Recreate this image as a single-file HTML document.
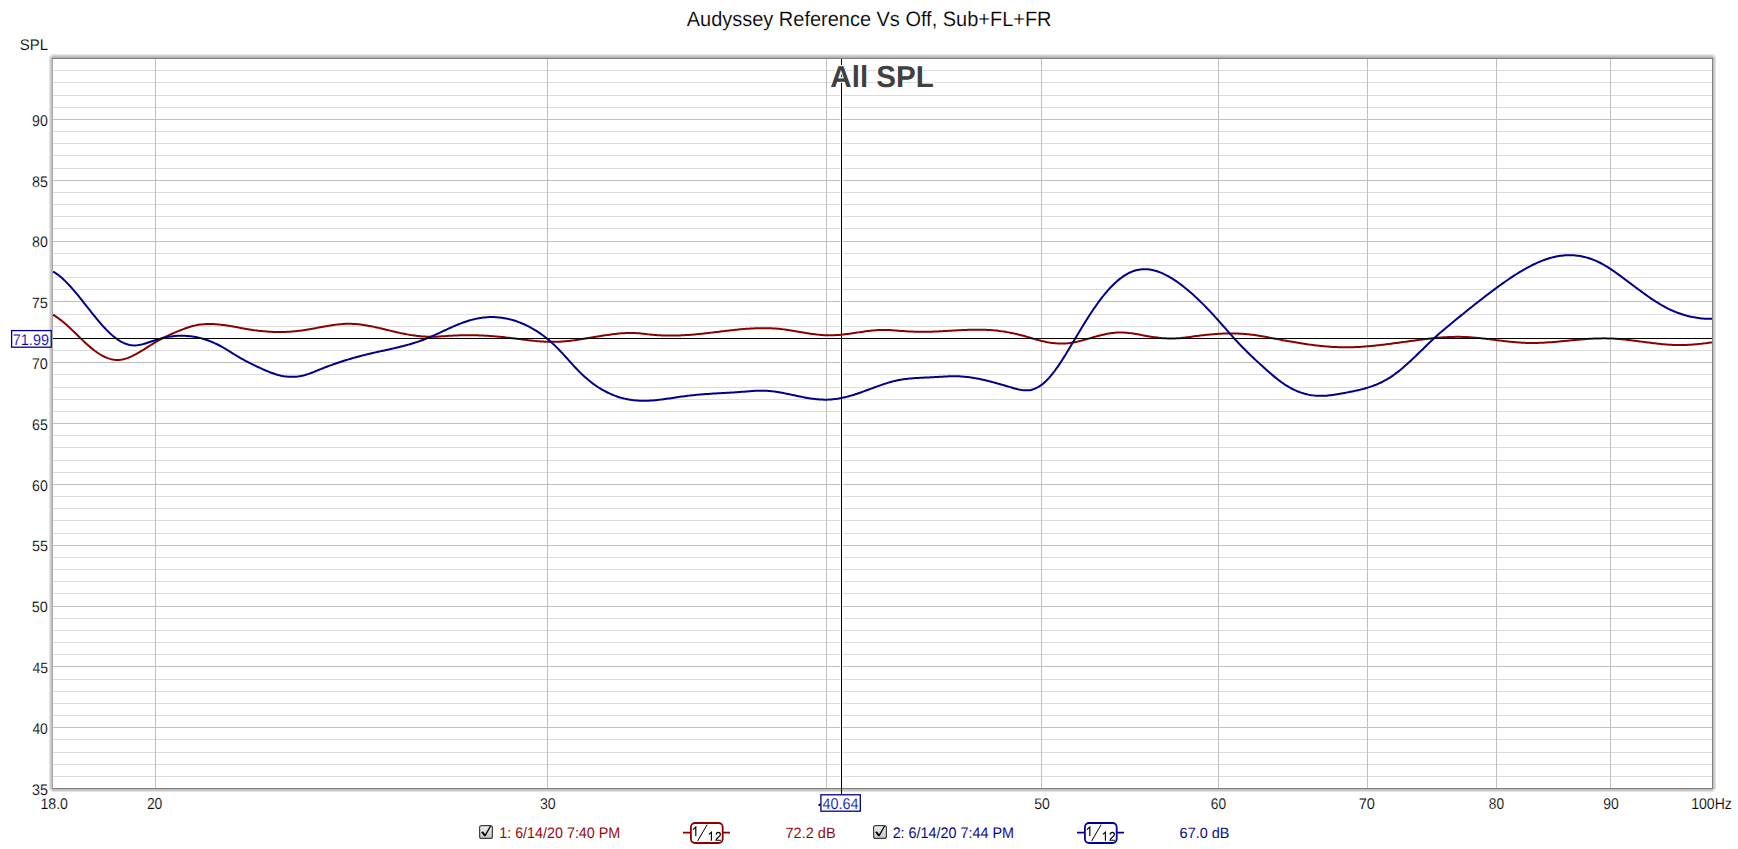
<!DOCTYPE html><html><head><meta charset="utf-8"><title>Audyssey Reference Vs Off, Sub+FL+FR</title><style>html,body{margin:0;padding:0;background:#fff;overflow:hidden}svg{display:block}</style></head><body><svg width="1738" height="849" viewBox="0 0 1738 849"><defs><linearGradient id="cbg" x1="0" y1="0" x2="0" y2="1"><stop offset="0" stop-color="#f2f2f2"/><stop offset="1" stop-color="#c4c4c4"/></linearGradient></defs><rect x="49.5" y="54.5" width="1666.0" height="737.0" rx="3.5" fill="none" stroke="#e2e2e2" stroke-width="1"/>
<rect x="50.5" y="55.5" width="1664.0" height="735.0" rx="2.5" fill="none" stroke="#d0d0d0" stroke-width="1"/>
<rect x="51.5" y="56.5" width="1662.0" height="733.0" rx="1.5" fill="none" stroke="#c0c0c0" stroke-width="1"/>
<rect x="53" y="54" width="1659" height="1" fill="#e6e6e6"/>
<rect x="53" y="55" width="1659" height="1" fill="#d2d2d2"/>
<rect x="53" y="56" width="1659" height="1" fill="#c3c3c3"/>
<rect x="53" y="790" width="1659" height="1" fill="#c8c8c8"/>
<rect x="53" y="57" width="1661" height="1" fill="#b3b3b3"/>
<rect x="52" y="58" width="1" height="730" fill="#a8a8a8"/>
<rect x="52" y="57" width="1" height="1" fill="#b8b8b8"/>
<rect x="52" y="58" width="1661" height="1" fill="#808080"/>
<rect x="52" y="788" width="1661" height="1" fill="#808080"/>
<rect x="1712" y="58" width="1" height="731" fill="#808080"/>
<rect x="53" y="59" width="1659" height="729" fill="#fff"/>
<line x1="53" x2="1712" y1="776.5" y2="776.5" stroke="#dcdcdc" stroke-width="1"/>
<line x1="53" x2="1712" y1="764.5" y2="764.5" stroke="#dcdcdc" stroke-width="1"/>
<line x1="53" x2="1712" y1="752.5" y2="752.5" stroke="#dcdcdc" stroke-width="1"/>
<line x1="53" x2="1712" y1="739.5" y2="739.5" stroke="#dcdcdc" stroke-width="1"/>
<line x1="53" x2="1712" y1="727.5" y2="727.5" stroke="#c0c0c0" stroke-width="1"/>
<line x1="53" x2="1712" y1="715.5" y2="715.5" stroke="#dcdcdc" stroke-width="1"/>
<line x1="53" x2="1712" y1="703.5" y2="703.5" stroke="#dcdcdc" stroke-width="1"/>
<line x1="53" x2="1712" y1="691.5" y2="691.5" stroke="#dcdcdc" stroke-width="1"/>
<line x1="53" x2="1712" y1="679.5" y2="679.5" stroke="#dcdcdc" stroke-width="1"/>
<line x1="53" x2="1712" y1="666.5" y2="666.5" stroke="#c0c0c0" stroke-width="1"/>
<line x1="53" x2="1712" y1="654.5" y2="654.5" stroke="#dcdcdc" stroke-width="1"/>
<line x1="53" x2="1712" y1="642.5" y2="642.5" stroke="#dcdcdc" stroke-width="1"/>
<line x1="53" x2="1712" y1="630.5" y2="630.5" stroke="#dcdcdc" stroke-width="1"/>
<line x1="53" x2="1712" y1="618.5" y2="618.5" stroke="#dcdcdc" stroke-width="1"/>
<line x1="53" x2="1712" y1="606.5" y2="606.5" stroke="#c0c0c0" stroke-width="1"/>
<line x1="53" x2="1712" y1="593.5" y2="593.5" stroke="#dcdcdc" stroke-width="1"/>
<line x1="53" x2="1712" y1="581.5" y2="581.5" stroke="#dcdcdc" stroke-width="1"/>
<line x1="53" x2="1712" y1="569.5" y2="569.5" stroke="#dcdcdc" stroke-width="1"/>
<line x1="53" x2="1712" y1="557.5" y2="557.5" stroke="#dcdcdc" stroke-width="1"/>
<line x1="53" x2="1712" y1="545.5" y2="545.5" stroke="#c0c0c0" stroke-width="1"/>
<line x1="53" x2="1712" y1="533.5" y2="533.5" stroke="#dcdcdc" stroke-width="1"/>
<line x1="53" x2="1712" y1="520.5" y2="520.5" stroke="#dcdcdc" stroke-width="1"/>
<line x1="53" x2="1712" y1="508.5" y2="508.5" stroke="#dcdcdc" stroke-width="1"/>
<line x1="53" x2="1712" y1="496.5" y2="496.5" stroke="#dcdcdc" stroke-width="1"/>
<line x1="53" x2="1712" y1="484.5" y2="484.5" stroke="#c0c0c0" stroke-width="1"/>
<line x1="53" x2="1712" y1="472.5" y2="472.5" stroke="#dcdcdc" stroke-width="1"/>
<line x1="53" x2="1712" y1="460.5" y2="460.5" stroke="#dcdcdc" stroke-width="1"/>
<line x1="53" x2="1712" y1="447.5" y2="447.5" stroke="#dcdcdc" stroke-width="1"/>
<line x1="53" x2="1712" y1="435.5" y2="435.5" stroke="#dcdcdc" stroke-width="1"/>
<line x1="53" x2="1712" y1="423.5" y2="423.5" stroke="#c0c0c0" stroke-width="1"/>
<line x1="53" x2="1712" y1="411.5" y2="411.5" stroke="#dcdcdc" stroke-width="1"/>
<line x1="53" x2="1712" y1="399.5" y2="399.5" stroke="#dcdcdc" stroke-width="1"/>
<line x1="53" x2="1712" y1="387.5" y2="387.5" stroke="#dcdcdc" stroke-width="1"/>
<line x1="53" x2="1712" y1="374.5" y2="374.5" stroke="#dcdcdc" stroke-width="1"/>
<line x1="53" x2="1712" y1="362.5" y2="362.5" stroke="#c0c0c0" stroke-width="1"/>
<line x1="53" x2="1712" y1="350.5" y2="350.5" stroke="#dcdcdc" stroke-width="1"/>
<line x1="53" x2="1712" y1="338.5" y2="338.5" stroke="#dcdcdc" stroke-width="1"/>
<line x1="53" x2="1712" y1="326.5" y2="326.5" stroke="#dcdcdc" stroke-width="1"/>
<line x1="53" x2="1712" y1="314.5" y2="314.5" stroke="#dcdcdc" stroke-width="1"/>
<line x1="53" x2="1712" y1="301.5" y2="301.5" stroke="#c0c0c0" stroke-width="1"/>
<line x1="53" x2="1712" y1="289.5" y2="289.5" stroke="#dcdcdc" stroke-width="1"/>
<line x1="53" x2="1712" y1="277.5" y2="277.5" stroke="#dcdcdc" stroke-width="1"/>
<line x1="53" x2="1712" y1="265.5" y2="265.5" stroke="#dcdcdc" stroke-width="1"/>
<line x1="53" x2="1712" y1="253.5" y2="253.5" stroke="#dcdcdc" stroke-width="1"/>
<line x1="53" x2="1712" y1="241.5" y2="241.5" stroke="#c0c0c0" stroke-width="1"/>
<line x1="53" x2="1712" y1="228.5" y2="228.5" stroke="#dcdcdc" stroke-width="1"/>
<line x1="53" x2="1712" y1="216.5" y2="216.5" stroke="#dcdcdc" stroke-width="1"/>
<line x1="53" x2="1712" y1="204.5" y2="204.5" stroke="#dcdcdc" stroke-width="1"/>
<line x1="53" x2="1712" y1="192.5" y2="192.5" stroke="#dcdcdc" stroke-width="1"/>
<line x1="53" x2="1712" y1="180.5" y2="180.5" stroke="#c0c0c0" stroke-width="1"/>
<line x1="53" x2="1712" y1="168.5" y2="168.5" stroke="#dcdcdc" stroke-width="1"/>
<line x1="53" x2="1712" y1="155.5" y2="155.5" stroke="#dcdcdc" stroke-width="1"/>
<line x1="53" x2="1712" y1="143.5" y2="143.5" stroke="#dcdcdc" stroke-width="1"/>
<line x1="53" x2="1712" y1="131.5" y2="131.5" stroke="#dcdcdc" stroke-width="1"/>
<line x1="53" x2="1712" y1="119.5" y2="119.5" stroke="#c0c0c0" stroke-width="1"/>
<line x1="53" x2="1712" y1="107.5" y2="107.5" stroke="#dcdcdc" stroke-width="1"/>
<line x1="53" x2="1712" y1="95.5" y2="95.5" stroke="#dcdcdc" stroke-width="1"/>
<line x1="53" x2="1712" y1="82.5" y2="82.5" stroke="#dcdcdc" stroke-width="1"/>
<line x1="53" x2="1712" y1="70.5" y2="70.5" stroke="#dcdcdc" stroke-width="1"/>
<line x1="155.5" x2="155.5" y1="59" y2="788" stroke="#c0c0c0" stroke-width="1"/>
<line x1="547.5" x2="547.5" y1="59" y2="788" stroke="#c0c0c0" stroke-width="1"/>
<line x1="826.5" x2="826.5" y1="59" y2="788" stroke="#c0c0c0" stroke-width="1"/>
<line x1="1041.5" x2="1041.5" y1="59" y2="788" stroke="#c0c0c0" stroke-width="1"/>
<line x1="1218.5" x2="1218.5" y1="59" y2="788" stroke="#c0c0c0" stroke-width="1"/>
<line x1="1367.5" x2="1367.5" y1="59" y2="788" stroke="#c0c0c0" stroke-width="1"/>
<line x1="1496.5" x2="1496.5" y1="59" y2="788" stroke="#c0c0c0" stroke-width="1"/>
<line x1="1610.5" x2="1610.5" y1="59" y2="788" stroke="#c0c0c0" stroke-width="1"/>
<rect x="53" y="337" width="1659" height="3" fill="#fff" fill-opacity="0.65"/>
<rect x="840" y="59" width="3" height="729" fill="#fff" fill-opacity="0.65"/>
<path d="M53.0,314.68 L54.5,315.62 L56.0,316.61 L57.5,317.66 L59.0,318.75 L60.5,319.89 L62.0,321.08 L63.5,322.30 L65.0,323.56 L66.5,324.86 L68.0,326.19 L69.5,327.55 L71.0,328.94 L72.5,330.36 L74.0,331.80 L75.5,333.26 L77.0,334.73 L78.5,336.21 L80.0,337.69 L81.5,339.15 L83.0,340.60 L84.5,342.03 L86.0,343.42 L87.5,344.78 L89.0,346.10 L90.5,347.38 L92.0,348.61 L93.5,349.80 L95.0,350.94 L96.5,352.02 L98.0,353.04 L99.5,354.01 L101.0,354.91 L102.5,355.75 L104.0,356.52 L105.5,357.23 L107.0,357.85 L108.5,358.40 L110.0,358.88 L111.5,359.27 L113.0,359.57 L114.5,359.79 L116.0,359.92 L117.5,359.95 L119.0,359.89 L120.5,359.75 L122.0,359.51 L123.5,359.20 L125.0,358.81 L126.5,358.35 L128.0,357.82 L129.5,357.24 L131.0,356.59 L132.5,355.90 L134.0,355.16 L135.5,354.37 L137.0,353.55 L138.5,352.69 L140.0,351.81 L141.5,350.90 L143.0,349.98 L144.5,349.04 L146.0,348.09 L147.5,347.13 L149.0,346.18 L150.5,345.23 L152.0,344.29 L153.5,343.36 L155.0,342.45 L156.5,341.57 L158.0,340.71 L159.5,339.87 L161.0,339.06 L162.5,338.28 L164.0,337.51 L165.5,336.77 L167.0,336.04 L168.5,335.34 L170.0,334.65 L171.5,333.98 L173.0,333.32 L174.5,332.68 L176.0,332.05 L177.5,331.43 L179.0,330.82 L180.5,330.22 L182.0,329.63 L183.5,329.06 L185.0,328.50 L186.5,327.96 L188.0,327.45 L189.5,326.97 L191.0,326.51 L192.5,326.09 L194.0,325.71 L195.5,325.38 L197.0,325.08 L198.5,324.82 L200.0,324.60 L201.5,324.41 L203.0,324.27 L204.5,324.15 L206.0,324.07 L207.5,324.02 L209.0,324.00 L210.5,324.00 L212.0,324.04 L213.5,324.10 L215.0,324.18 L216.5,324.29 L218.0,324.41 L219.5,324.56 L221.0,324.72 L222.5,324.91 L224.0,325.10 L225.5,325.32 L227.0,325.54 L228.5,325.78 L230.0,326.02 L231.5,326.28 L233.0,326.54 L234.5,326.81 L236.0,327.08 L237.5,327.35 L239.0,327.63 L240.5,327.90 L242.0,328.18 L243.5,328.45 L245.0,328.72 L246.5,328.98 L248.0,329.24 L249.5,329.48 L251.0,329.72 L252.5,329.95 L254.0,330.16 L255.5,330.37 L257.0,330.56 L258.5,330.74 L260.0,330.91 L261.5,331.07 L263.0,331.22 L264.5,331.35 L266.0,331.47 L267.5,331.58 L269.0,331.68 L270.5,331.77 L272.0,331.84 L273.5,331.90 L275.0,331.95 L276.5,331.98 L278.0,332.00 L279.5,332.01 L281.0,332.00 L282.5,331.99 L284.0,331.95 L285.5,331.91 L287.0,331.85 L288.5,331.77 L290.0,331.68 L291.5,331.58 L293.0,331.46 L294.5,331.33 L296.0,331.19 L297.5,331.02 L299.0,330.85 L300.5,330.66 L302.0,330.45 L303.5,330.23 L305.0,330.00 L306.5,329.76 L308.0,329.51 L309.5,329.25 L311.0,328.98 L312.5,328.71 L314.0,328.43 L315.5,328.15 L317.0,327.87 L318.5,327.59 L320.0,327.30 L321.5,327.02 L323.0,326.75 L324.5,326.47 L326.0,326.21 L327.5,325.95 L329.0,325.70 L330.5,325.46 L332.0,325.23 L333.5,325.01 L335.0,324.81 L336.5,324.62 L338.0,324.45 L339.5,324.29 L341.0,324.15 L342.5,324.04 L344.0,323.94 L345.5,323.87 L347.0,323.82 L348.5,323.80 L350.0,323.80 L351.5,323.83 L353.0,323.89 L354.5,323.97 L356.0,324.08 L357.5,324.21 L359.0,324.36 L360.5,324.54 L362.0,324.73 L363.5,324.94 L365.0,325.17 L366.5,325.42 L368.0,325.69 L369.5,325.96 L371.0,326.26 L372.5,326.56 L374.0,326.87 L375.5,327.20 L377.0,327.53 L378.5,327.88 L380.0,328.22 L381.5,328.58 L383.0,328.94 L384.5,329.30 L386.0,329.66 L387.5,330.03 L389.0,330.39 L390.5,330.76 L392.0,331.12 L393.5,331.48 L395.0,331.83 L396.5,332.18 L398.0,332.52 L399.5,332.86 L401.0,333.18 L402.5,333.50 L404.0,333.80 L405.5,334.09 L407.0,334.37 L408.5,334.64 L410.0,334.89 L411.5,335.13 L413.0,335.36 L414.5,335.57 L416.0,335.76 L417.5,335.94 L419.0,336.11 L420.5,336.25 L422.0,336.38 L423.5,336.49 L425.0,336.59 L426.5,336.66 L428.0,336.72 L429.5,336.75 L431.0,336.77 L432.5,336.76 L434.0,336.74 L435.5,336.69 L437.0,336.63 L438.5,336.56 L440.0,336.47 L441.5,336.37 L443.0,336.27 L444.5,336.17 L446.0,336.06 L447.5,335.96 L449.0,335.86 L450.5,335.76 L452.0,335.67 L453.5,335.59 L455.0,335.52 L456.5,335.46 L458.0,335.40 L459.5,335.35 L461.0,335.31 L462.5,335.28 L464.0,335.25 L465.5,335.23 L467.0,335.22 L468.5,335.22 L470.0,335.22 L471.5,335.23 L473.0,335.25 L474.5,335.28 L476.0,335.31 L477.5,335.35 L479.0,335.40 L480.5,335.45 L482.0,335.51 L483.5,335.58 L485.0,335.66 L486.5,335.74 L488.0,335.83 L489.5,335.93 L491.0,336.03 L492.5,336.14 L494.0,336.26 L495.5,336.38 L497.0,336.51 L498.5,336.65 L500.0,336.80 L501.5,336.95 L503.0,337.11 L504.5,337.27 L506.0,337.44 L507.5,337.62 L509.0,337.79 L510.5,337.98 L512.0,338.17 L513.5,338.35 L515.0,338.55 L516.5,338.74 L518.0,338.93 L519.5,339.12 L521.0,339.31 L522.5,339.50 L524.0,339.69 L525.5,339.87 L527.0,340.05 L528.5,340.23 L530.0,340.40 L531.5,340.57 L533.0,340.72 L534.5,340.88 L536.0,341.02 L537.5,341.15 L539.0,341.28 L540.5,341.39 L542.0,341.50 L543.5,341.59 L545.0,341.67 L546.5,341.74 L548.0,341.79 L549.5,341.84 L551.0,341.86 L552.5,341.87 L554.0,341.87 L555.5,341.84 L557.0,341.80 L558.5,341.74 L560.0,341.67 L561.5,341.58 L563.0,341.47 L564.5,341.35 L566.0,341.22 L567.5,341.07 L569.0,340.92 L570.5,340.75 L572.0,340.56 L573.5,340.37 L575.0,340.17 L576.5,339.96 L578.0,339.75 L579.5,339.52 L581.0,339.29 L582.5,339.06 L584.0,338.82 L585.5,338.57 L587.0,338.32 L588.5,338.07 L590.0,337.82 L591.5,337.57 L593.0,337.31 L594.5,337.06 L596.0,336.80 L597.5,336.55 L599.0,336.30 L600.5,336.06 L602.0,335.81 L603.5,335.58 L605.0,335.34 L606.5,335.12 L608.0,334.90 L609.5,334.69 L611.0,334.48 L612.5,334.29 L614.0,334.10 L615.5,333.93 L617.0,333.77 L618.5,333.62 L620.0,333.49 L621.5,333.37 L623.0,333.26 L624.5,333.17 L626.0,333.10 L627.5,333.04 L629.0,333.01 L630.5,332.99 L632.0,333.00 L633.5,333.03 L635.0,333.08 L636.5,333.15 L638.0,333.25 L639.5,333.37 L641.0,333.51 L642.5,333.67 L644.0,333.84 L645.5,334.02 L647.0,334.20 L648.5,334.38 L650.0,334.55 L651.5,334.70 L653.0,334.85 L654.5,334.97 L656.0,335.09 L657.5,335.20 L659.0,335.29 L660.5,335.37 L662.0,335.43 L663.5,335.49 L665.0,335.53 L666.5,335.57 L668.0,335.59 L669.5,335.60 L671.0,335.60 L672.5,335.59 L674.0,335.58 L675.5,335.55 L677.0,335.51 L678.5,335.46 L680.0,335.40 L681.5,335.34 L683.0,335.27 L684.5,335.18 L686.0,335.09 L687.5,334.99 L689.0,334.89 L690.5,334.78 L692.0,334.66 L693.5,334.53 L695.0,334.40 L696.5,334.26 L698.0,334.11 L699.5,333.96 L701.0,333.81 L702.5,333.65 L704.0,333.48 L705.5,333.32 L707.0,333.15 L708.5,332.97 L710.0,332.80 L711.5,332.62 L713.0,332.44 L714.5,332.26 L716.0,332.08 L717.5,331.90 L719.0,331.71 L720.5,331.53 L722.0,331.35 L723.5,331.17 L725.0,330.99 L726.5,330.82 L728.0,330.64 L729.5,330.47 L731.0,330.30 L732.5,330.14 L734.0,329.97 L735.5,329.82 L737.0,329.66 L738.5,329.52 L740.0,329.37 L741.5,329.24 L743.0,329.11 L744.5,328.98 L746.0,328.87 L747.5,328.76 L749.0,328.66 L750.5,328.56 L752.0,328.48 L753.5,328.40 L755.0,328.34 L756.5,328.28 L758.0,328.23 L759.5,328.20 L761.0,328.17 L762.5,328.16 L764.0,328.16 L765.5,328.17 L767.0,328.19 L768.5,328.23 L770.0,328.27 L771.5,328.34 L773.0,328.41 L774.5,328.50 L776.0,328.61 L777.5,328.73 L779.0,328.87 L780.5,329.02 L782.0,329.19 L783.5,329.37 L785.0,329.57 L786.5,329.77 L788.0,329.99 L789.5,330.22 L791.0,330.45 L792.5,330.70 L794.0,330.94 L795.5,331.19 L797.0,331.45 L798.5,331.70 L800.0,331.96 L801.5,332.22 L803.0,332.47 L804.5,332.72 L806.0,332.97 L807.5,333.21 L809.0,333.44 L810.5,333.67 L812.0,333.89 L813.5,334.09 L815.0,334.29 L816.5,334.47 L818.0,334.63 L819.5,334.78 L821.0,334.92 L822.5,335.03 L824.0,335.13 L825.5,335.20 L827.0,335.26 L828.5,335.29 L830.0,335.30 L831.5,335.28 L833.0,335.24 L834.5,335.18 L836.0,335.10 L837.5,335.00 L839.0,334.88 L840.5,334.75 L842.0,334.60 L843.5,334.44 L845.0,334.27 L846.5,334.08 L848.0,333.89 L849.5,333.69 L851.0,333.48 L852.5,333.27 L854.0,333.05 L855.5,332.83 L857.0,332.60 L858.5,332.38 L860.0,332.16 L861.5,331.94 L863.0,331.72 L864.5,331.51 L866.0,331.31 L867.5,331.11 L869.0,330.93 L870.5,330.75 L872.0,330.59 L873.5,330.44 L875.0,330.31 L876.5,330.19 L878.0,330.10 L879.5,330.02 L881.0,329.97 L882.5,329.94 L884.0,329.93 L885.5,329.95 L887.0,329.99 L888.5,330.04 L890.0,330.12 L891.5,330.21 L893.0,330.31 L894.5,330.41 L896.0,330.53 L897.5,330.65 L899.0,330.77 L900.5,330.89 L902.0,331.00 L903.5,331.11 L905.0,331.22 L906.5,331.31 L908.0,331.40 L909.5,331.48 L911.0,331.55 L912.5,331.62 L914.0,331.67 L915.5,331.72 L917.0,331.76 L918.5,331.79 L920.0,331.81 L921.5,331.82 L923.0,331.82 L924.5,331.81 L926.0,331.80 L927.5,331.78 L929.0,331.74 L930.5,331.70 L932.0,331.66 L933.5,331.61 L935.0,331.55 L936.5,331.49 L938.0,331.42 L939.5,331.35 L941.0,331.27 L942.5,331.19 L944.0,331.11 L945.5,331.03 L947.0,330.94 L948.5,330.86 L950.0,330.77 L951.5,330.68 L953.0,330.60 L954.5,330.51 L956.0,330.43 L957.5,330.34 L959.0,330.27 L960.5,330.19 L962.0,330.12 L963.5,330.05 L965.0,329.98 L966.5,329.92 L968.0,329.87 L969.5,329.82 L971.0,329.78 L972.5,329.75 L974.0,329.72 L975.5,329.71 L977.0,329.70 L978.5,329.70 L980.0,329.71 L981.5,329.73 L983.0,329.76 L984.5,329.80 L986.0,329.86 L987.5,329.92 L989.0,330.00 L990.5,330.10 L992.0,330.20 L993.5,330.33 L995.0,330.46 L996.5,330.61 L998.0,330.78 L999.5,330.97 L1001.0,331.17 L1002.5,331.38 L1004.0,331.61 L1005.5,331.86 L1007.0,332.12 L1008.5,332.39 L1010.0,332.68 L1011.5,332.98 L1013.0,333.29 L1014.5,333.62 L1016.0,333.96 L1017.5,334.31 L1019.0,334.68 L1020.5,335.05 L1022.0,335.44 L1023.5,335.84 L1025.0,336.25 L1026.5,336.67 L1028.0,337.10 L1029.5,337.54 L1031.0,337.98 L1032.5,338.42 L1034.0,338.86 L1035.5,339.29 L1037.0,339.72 L1038.5,340.13 L1040.0,340.53 L1041.5,340.91 L1043.0,341.27 L1044.5,341.60 L1046.0,341.91 L1047.5,342.20 L1049.0,342.45 L1050.5,342.69 L1052.0,342.89 L1053.5,343.06 L1055.0,343.21 L1056.5,343.33 L1058.0,343.41 L1059.5,343.47 L1061.0,343.50 L1062.5,343.49 L1064.0,343.45 L1065.5,343.38 L1067.0,343.28 L1068.5,343.14 L1070.0,342.97 L1071.5,342.76 L1073.0,342.52 L1074.5,342.25 L1076.0,341.94 L1077.5,341.61 L1079.0,341.25 L1080.5,340.87 L1082.0,340.48 L1083.5,340.07 L1085.0,339.65 L1086.5,339.22 L1088.0,338.78 L1089.5,338.35 L1091.0,337.92 L1092.5,337.49 L1094.0,337.06 L1095.5,336.65 L1097.0,336.24 L1098.5,335.84 L1100.0,335.46 L1101.5,335.09 L1103.0,334.74 L1104.5,334.41 L1106.0,334.09 L1107.5,333.80 L1109.0,333.54 L1110.5,333.30 L1112.0,333.08 L1113.5,332.90 L1115.0,332.74 L1116.5,332.62 L1118.0,332.54 L1119.5,332.49 L1121.0,332.48 L1122.5,332.51 L1124.0,332.57 L1125.5,332.67 L1127.0,332.80 L1128.5,332.95 L1130.0,333.13 L1131.5,333.34 L1133.0,333.56 L1134.5,333.80 L1136.0,334.05 L1137.5,334.31 L1139.0,334.58 L1140.5,334.85 L1142.0,335.13 L1143.5,335.40 L1145.0,335.67 L1146.5,335.93 L1148.0,336.19 L1149.5,336.44 L1151.0,336.68 L1152.5,336.91 L1154.0,337.13 L1155.5,337.33 L1157.0,337.53 L1158.5,337.70 L1160.0,337.87 L1161.5,338.01 L1163.0,338.14 L1164.5,338.25 L1166.0,338.34 L1167.5,338.41 L1169.0,338.46 L1170.5,338.49 L1172.0,338.49 L1173.5,338.46 L1175.0,338.42 L1176.5,338.34 L1178.0,338.25 L1179.5,338.13 L1181.0,338.00 L1182.5,337.85 L1184.0,337.68 L1185.5,337.51 L1187.0,337.32 L1188.5,337.13 L1190.0,336.93 L1191.5,336.72 L1193.0,336.51 L1194.5,336.31 L1196.0,336.10 L1197.5,335.90 L1199.0,335.71 L1200.5,335.52 L1202.0,335.34 L1203.5,335.16 L1205.0,334.99 L1206.5,334.83 L1208.0,334.68 L1209.5,334.53 L1211.0,334.39 L1212.5,334.26 L1214.0,334.14 L1215.5,334.03 L1217.0,333.92 L1218.5,333.83 L1220.0,333.74 L1221.5,333.67 L1223.0,333.60 L1224.5,333.55 L1226.0,333.50 L1227.5,333.47 L1229.0,333.45 L1230.5,333.44 L1232.0,333.44 L1233.5,333.45 L1235.0,333.48 L1236.5,333.52 L1238.0,333.57 L1239.5,333.63 L1241.0,333.71 L1242.5,333.80 L1244.0,333.91 L1245.5,334.03 L1247.0,334.16 L1248.5,334.31 L1250.0,334.48 L1251.5,334.66 L1253.0,334.85 L1254.5,335.06 L1256.0,335.28 L1257.5,335.51 L1259.0,335.75 L1260.5,336.00 L1262.0,336.26 L1263.5,336.52 L1265.0,336.79 L1266.5,337.07 L1268.0,337.35 L1269.5,337.64 L1271.0,337.92 L1272.5,338.21 L1274.0,338.49 L1275.5,338.78 L1277.0,339.06 L1278.5,339.35 L1280.0,339.63 L1281.5,339.91 L1283.0,340.19 L1284.5,340.46 L1286.0,340.74 L1287.5,341.01 L1289.0,341.28 L1290.5,341.54 L1292.0,341.81 L1293.5,342.06 L1295.0,342.32 L1296.5,342.57 L1298.0,342.82 L1299.5,343.06 L1301.0,343.30 L1302.5,343.53 L1304.0,343.76 L1305.5,343.98 L1307.0,344.20 L1308.5,344.42 L1310.0,344.62 L1311.5,344.82 L1313.0,345.02 L1314.5,345.21 L1316.0,345.39 L1317.5,345.56 L1319.0,345.73 L1320.5,345.89 L1322.0,346.04 L1323.5,346.19 L1325.0,346.32 L1326.5,346.45 L1328.0,346.57 L1329.5,346.69 L1331.0,346.79 L1332.5,346.88 L1334.0,346.97 L1335.5,347.04 L1337.0,347.11 L1338.5,347.17 L1340.0,347.21 L1341.5,347.25 L1343.0,347.27 L1344.5,347.29 L1346.0,347.29 L1347.5,347.28 L1349.0,347.27 L1350.5,347.24 L1352.0,347.20 L1353.5,347.16 L1355.0,347.10 L1356.5,347.04 L1358.0,346.96 L1359.5,346.88 L1361.0,346.79 L1362.5,346.69 L1364.0,346.59 L1365.5,346.48 L1367.0,346.36 L1368.5,346.23 L1370.0,346.10 L1371.5,345.96 L1373.0,345.81 L1374.5,345.66 L1376.0,345.51 L1377.5,345.34 L1379.0,345.18 L1380.5,345.01 L1382.0,344.83 L1383.5,344.65 L1385.0,344.47 L1386.5,344.28 L1388.0,344.09 L1389.5,343.90 L1391.0,343.71 L1392.5,343.51 L1394.0,343.31 L1395.5,343.11 L1397.0,342.90 L1398.5,342.70 L1400.0,342.49 L1401.5,342.29 L1403.0,342.08 L1404.5,341.87 L1406.0,341.66 L1407.5,341.46 L1409.0,341.25 L1410.5,341.05 L1412.0,340.84 L1413.5,340.64 L1415.0,340.44 L1416.5,340.24 L1418.0,340.04 L1419.5,339.84 L1421.0,339.65 L1422.5,339.46 L1424.0,339.28 L1425.5,339.10 L1427.0,338.92 L1428.5,338.75 L1430.0,338.58 L1431.5,338.42 L1433.0,338.27 L1434.5,338.12 L1436.0,337.97 L1437.5,337.84 L1439.0,337.71 L1440.5,337.59 L1442.0,337.48 L1443.5,337.37 L1445.0,337.28 L1446.5,337.19 L1448.0,337.11 L1449.5,337.04 L1451.0,336.98 L1452.5,336.94 L1454.0,336.90 L1455.5,336.87 L1457.0,336.86 L1458.5,336.86 L1460.0,336.87 L1461.5,336.89 L1463.0,336.92 L1464.5,336.97 L1466.0,337.03 L1467.5,337.11 L1469.0,337.19 L1470.5,337.29 L1472.0,337.40 L1473.5,337.52 L1475.0,337.65 L1476.5,337.78 L1478.0,337.93 L1479.5,338.08 L1481.0,338.24 L1482.5,338.40 L1484.0,338.57 L1485.5,338.75 L1487.0,338.93 L1488.5,339.11 L1490.0,339.29 L1491.5,339.48 L1493.0,339.67 L1494.5,339.86 L1496.0,340.05 L1497.5,340.24 L1499.0,340.43 L1500.5,340.62 L1502.0,340.80 L1503.5,340.98 L1505.0,341.16 L1506.5,341.34 L1508.0,341.50 L1509.5,341.67 L1511.0,341.82 L1512.5,341.97 L1514.0,342.11 L1515.5,342.25 L1517.0,342.37 L1518.5,342.49 L1520.0,342.59 L1521.5,342.68 L1523.0,342.77 L1524.5,342.84 L1526.0,342.89 L1527.5,342.94 L1529.0,342.97 L1530.5,342.98 L1532.0,342.99 L1533.5,342.98 L1535.0,342.96 L1536.5,342.93 L1538.0,342.89 L1539.5,342.84 L1541.0,342.78 L1542.5,342.71 L1544.0,342.63 L1545.5,342.55 L1547.0,342.46 L1548.5,342.36 L1550.0,342.25 L1551.5,342.14 L1553.0,342.02 L1554.5,341.90 L1556.0,341.77 L1557.5,341.64 L1559.0,341.50 L1560.5,341.37 L1562.0,341.23 L1563.5,341.08 L1565.0,340.94 L1566.5,340.80 L1568.0,340.65 L1569.5,340.51 L1571.0,340.36 L1572.5,340.22 L1574.0,340.08 L1575.5,339.94 L1577.0,339.80 L1578.5,339.67 L1580.0,339.54 L1581.5,339.41 L1583.0,339.29 L1584.5,339.18 L1586.0,339.07 L1587.5,338.96 L1589.0,338.87 L1590.5,338.77 L1592.0,338.69 L1593.5,338.62 L1595.0,338.55 L1596.5,338.49 L1598.0,338.45 L1599.5,338.41 L1601.0,338.38 L1602.5,338.37 L1604.0,338.37 L1605.5,338.37 L1607.0,338.40 L1608.5,338.43 L1610.0,338.48 L1611.5,338.54 L1613.0,338.61 L1614.5,338.70 L1616.0,338.80 L1617.5,338.91 L1619.0,339.03 L1620.5,339.16 L1622.0,339.29 L1623.5,339.44 L1625.0,339.59 L1626.5,339.76 L1628.0,339.92 L1629.5,340.10 L1631.0,340.28 L1632.5,340.46 L1634.0,340.65 L1635.5,340.84 L1637.0,341.03 L1638.5,341.23 L1640.0,341.43 L1641.5,341.62 L1643.0,341.82 L1644.5,342.02 L1646.0,342.22 L1647.5,342.41 L1649.0,342.61 L1650.5,342.80 L1652.0,342.99 L1653.5,343.17 L1655.0,343.35 L1656.5,343.52 L1658.0,343.69 L1659.5,343.84 L1661.0,344.00 L1662.5,344.14 L1664.0,344.28 L1665.5,344.41 L1667.0,344.52 L1668.5,344.63 L1670.0,344.72 L1671.5,344.81 L1673.0,344.88 L1674.5,344.94 L1676.0,344.98 L1677.5,345.01 L1679.0,345.03 L1680.5,345.03 L1682.0,345.02 L1683.5,344.99 L1685.0,344.95 L1686.5,344.89 L1688.0,344.82 L1689.5,344.74 L1691.0,344.65 L1692.5,344.54 L1694.0,344.43 L1695.5,344.31 L1697.0,344.17 L1698.5,344.03 L1700.0,343.87 L1701.5,343.71 L1703.0,343.55 L1704.5,343.37 L1706.0,343.19 L1707.5,343.00 L1709.0,342.81 L1710.5,342.61 L1712.0,342.41" fill="none" stroke="#8c0000" stroke-width="2"/>
<path d="M53.0,271.54 L54.5,272.41 L56.0,273.38 L57.5,274.43 L59.0,275.57 L60.5,276.78 L62.0,278.07 L63.5,279.44 L65.0,280.86 L66.5,282.35 L68.0,283.90 L69.5,285.50 L71.0,287.15 L72.5,288.85 L74.0,290.58 L75.5,292.35 L77.0,294.16 L78.5,295.99 L80.0,297.84 L81.5,299.72 L83.0,301.61 L84.5,303.51 L86.0,305.41 L87.5,307.32 L89.0,309.22 L90.5,311.12 L92.0,313.01 L93.5,314.88 L95.0,316.74 L96.5,318.57 L98.0,320.37 L99.5,322.14 L101.0,323.87 L102.5,325.57 L104.0,327.21 L105.5,328.81 L107.0,330.36 L108.5,331.84 L110.0,333.27 L111.5,334.62 L113.0,335.92 L114.5,337.14 L116.0,338.28 L117.5,339.36 L119.0,340.35 L120.5,341.26 L122.0,342.09 L123.5,342.84 L125.0,343.49 L126.5,344.05 L128.0,344.52 L129.5,344.90 L131.0,345.17 L132.5,345.34 L134.0,345.42 L135.5,345.39 L137.0,345.28 L138.5,345.09 L140.0,344.83 L141.5,344.51 L143.0,344.13 L144.5,343.71 L146.0,343.26 L147.5,342.77 L149.0,342.26 L150.5,341.75 L152.0,341.23 L153.5,340.71 L155.0,340.21 L156.5,339.72 L158.0,339.27 L159.5,338.84 L161.0,338.44 L162.5,338.06 L164.0,337.72 L165.5,337.40 L167.0,337.11 L168.5,336.84 L170.0,336.61 L171.5,336.40 L173.0,336.22 L174.5,336.07 L176.0,335.95 L177.5,335.86 L179.0,335.80 L180.5,335.76 L182.0,335.76 L183.5,335.78 L185.0,335.83 L186.5,335.92 L188.0,336.03 L189.5,336.17 L191.0,336.34 L192.5,336.55 L194.0,336.78 L195.5,337.04 L197.0,337.33 L198.5,337.66 L200.0,338.01 L201.5,338.40 L203.0,338.82 L204.5,339.27 L206.0,339.75 L207.5,340.26 L209.0,340.80 L210.5,341.38 L212.0,341.98 L213.5,342.62 L215.0,343.29 L216.5,344.00 L218.0,344.73 L219.5,345.50 L221.0,346.30 L222.5,347.13 L224.0,348.00 L225.5,348.89 L227.0,349.81 L228.5,350.73 L230.0,351.67 L231.5,352.61 L233.0,353.55 L234.5,354.49 L236.0,355.40 L237.5,356.30 L239.0,357.18 L240.5,358.04 L242.0,358.88 L243.5,359.71 L245.0,360.51 L246.5,361.31 L248.0,362.09 L249.5,362.86 L251.0,363.62 L252.5,364.37 L254.0,365.11 L255.5,365.84 L257.0,366.55 L258.5,367.26 L260.0,367.96 L261.5,368.64 L263.0,369.31 L264.5,369.97 L266.0,370.62 L267.5,371.26 L269.0,371.87 L270.5,372.46 L272.0,373.02 L273.5,373.55 L275.0,374.05 L276.5,374.51 L278.0,374.93 L279.5,375.31 L281.0,375.65 L282.5,375.95 L284.0,376.21 L285.5,376.43 L287.0,376.60 L288.5,376.73 L290.0,376.81 L291.5,376.85 L293.0,376.85 L294.5,376.79 L296.0,376.69 L297.5,376.54 L299.0,376.34 L300.5,376.08 L302.0,375.78 L303.5,375.42 L305.0,375.02 L306.5,374.57 L308.0,374.09 L309.5,373.57 L311.0,373.02 L312.5,372.45 L314.0,371.86 L315.5,371.26 L317.0,370.65 L318.5,370.03 L320.0,369.42 L321.5,368.81 L323.0,368.21 L324.5,367.63 L326.0,367.05 L327.5,366.47 L329.0,365.91 L330.5,365.36 L332.0,364.82 L333.5,364.28 L335.0,363.75 L336.5,363.23 L338.0,362.72 L339.5,362.22 L341.0,361.73 L342.5,361.24 L344.0,360.77 L345.5,360.30 L347.0,359.83 L348.5,359.38 L350.0,358.93 L351.5,358.49 L353.0,358.06 L354.5,357.64 L356.0,357.22 L357.5,356.81 L359.0,356.41 L360.5,356.01 L362.0,355.62 L363.5,355.24 L365.0,354.86 L366.5,354.49 L368.0,354.13 L369.5,353.77 L371.0,353.42 L372.5,353.07 L374.0,352.73 L375.5,352.39 L377.0,352.06 L378.5,351.72 L380.0,351.39 L381.5,351.06 L383.0,350.73 L384.5,350.40 L386.0,350.07 L387.5,349.74 L389.0,349.41 L390.5,349.07 L392.0,348.73 L393.5,348.39 L395.0,348.04 L396.5,347.69 L398.0,347.33 L399.5,346.96 L401.0,346.59 L402.5,346.21 L404.0,345.82 L405.5,345.42 L407.0,345.01 L408.5,344.60 L410.0,344.17 L411.5,343.73 L413.0,343.27 L414.5,342.81 L416.0,342.33 L417.5,341.84 L419.0,341.33 L420.5,340.81 L422.0,340.27 L423.5,339.71 L425.0,339.14 L426.5,338.55 L428.0,337.94 L429.5,337.32 L431.0,336.67 L432.5,336.02 L434.0,335.35 L435.5,334.68 L437.0,333.99 L438.5,333.30 L440.0,332.61 L441.5,331.91 L443.0,331.21 L444.5,330.51 L446.0,329.81 L447.5,329.12 L449.0,328.43 L450.5,327.76 L452.0,327.09 L453.5,326.43 L455.0,325.78 L456.5,325.15 L458.0,324.53 L459.5,323.93 L461.0,323.35 L462.5,322.78 L464.0,322.24 L465.5,321.71 L467.0,321.21 L468.5,320.74 L470.0,320.29 L471.5,319.86 L473.0,319.47 L474.5,319.10 L476.0,318.76 L477.5,318.46 L479.0,318.18 L480.5,317.94 L482.0,317.72 L483.5,317.54 L485.0,317.38 L486.5,317.26 L488.0,317.17 L489.5,317.10 L491.0,317.07 L492.5,317.07 L494.0,317.10 L495.5,317.16 L497.0,317.25 L498.5,317.38 L500.0,317.53 L501.5,317.72 L503.0,317.93 L504.5,318.18 L506.0,318.46 L507.5,318.77 L509.0,319.11 L510.5,319.48 L512.0,319.89 L513.5,320.32 L515.0,320.79 L516.5,321.29 L518.0,321.82 L519.5,322.38 L521.0,322.98 L522.5,323.60 L524.0,324.26 L525.5,324.95 L527.0,325.67 L528.5,326.43 L530.0,327.21 L531.5,328.03 L533.0,328.88 L534.5,329.77 L536.0,330.69 L537.5,331.64 L539.0,332.63 L540.5,333.65 L542.0,334.71 L543.5,335.81 L545.0,336.95 L546.5,338.13 L548.0,339.35 L549.5,340.62 L551.0,341.93 L552.5,343.28 L554.0,344.67 L555.5,346.12 L557.0,347.61 L558.5,349.14 L560.0,350.71 L561.5,352.32 L563.0,353.94 L564.5,355.59 L566.0,357.26 L567.5,358.93 L569.0,360.60 L570.5,362.27 L572.0,363.93 L573.5,365.57 L575.0,367.20 L576.5,368.79 L578.0,370.36 L579.5,371.88 L581.0,373.36 L582.5,374.79 L584.0,376.18 L585.5,377.53 L587.0,378.83 L588.5,380.09 L590.0,381.30 L591.5,382.48 L593.0,383.61 L594.5,384.70 L596.0,385.75 L597.5,386.76 L599.0,387.73 L600.5,388.66 L602.0,389.56 L603.5,390.41 L605.0,391.23 L606.5,392.01 L608.0,392.75 L609.5,393.45 L611.0,394.12 L612.5,394.76 L614.0,395.36 L615.5,395.92 L617.0,396.46 L618.5,396.95 L620.0,397.42 L621.5,397.85 L623.0,398.25 L624.5,398.62 L626.0,398.96 L627.5,399.27 L629.0,399.55 L630.5,399.79 L632.0,400.01 L633.5,400.20 L635.0,400.37 L636.5,400.50 L638.0,400.61 L639.5,400.69 L641.0,400.74 L642.5,400.78 L644.0,400.78 L645.5,400.77 L647.0,400.73 L648.5,400.67 L650.0,400.60 L651.5,400.50 L653.0,400.39 L654.5,400.27 L656.0,400.13 L657.5,399.97 L659.0,399.81 L660.5,399.63 L662.0,399.44 L663.5,399.24 L665.0,399.04 L666.5,398.83 L668.0,398.61 L669.5,398.39 L671.0,398.17 L672.5,397.94 L674.0,397.72 L675.5,397.49 L677.0,397.26 L678.5,397.04 L680.0,396.82 L681.5,396.60 L683.0,396.39 L684.5,396.19 L686.0,396.00 L687.5,395.81 L689.0,395.63 L690.5,395.46 L692.0,395.30 L693.5,395.14 L695.0,395.00 L696.5,394.85 L698.0,394.72 L699.5,394.59 L701.0,394.46 L702.5,394.34 L704.0,394.22 L705.5,394.11 L707.0,394.01 L708.5,393.90 L710.0,393.80 L711.5,393.70 L713.0,393.61 L714.5,393.52 L716.0,393.43 L717.5,393.34 L719.0,393.25 L720.5,393.16 L722.0,393.08 L723.5,392.99 L725.0,392.91 L726.5,392.82 L728.0,392.74 L729.5,392.65 L731.0,392.56 L732.5,392.47 L734.0,392.38 L735.5,392.28 L737.0,392.18 L738.5,392.08 L740.0,391.98 L741.5,391.87 L743.0,391.76 L744.5,391.64 L746.0,391.52 L747.5,391.40 L749.0,391.28 L750.5,391.16 L752.0,391.04 L753.5,390.94 L755.0,390.85 L756.5,390.77 L758.0,390.70 L759.5,390.66 L761.0,390.64 L762.5,390.63 L764.0,390.66 L765.5,390.71 L767.0,390.80 L768.5,390.90 L770.0,391.04 L771.5,391.19 L773.0,391.37 L774.5,391.57 L776.0,391.78 L777.5,392.02 L779.0,392.27 L780.5,392.53 L782.0,392.81 L783.5,393.09 L785.0,393.39 L786.5,393.69 L788.0,394.00 L789.5,394.32 L791.0,394.64 L792.5,394.96 L794.0,395.28 L795.5,395.60 L797.0,395.92 L798.5,396.23 L800.0,396.54 L801.5,396.84 L803.0,397.14 L804.5,397.42 L806.0,397.69 L807.5,397.96 L809.0,398.21 L810.5,398.44 L812.0,398.66 L813.5,398.86 L815.0,399.04 L816.5,399.20 L818.0,399.34 L819.5,399.46 L821.0,399.55 L822.5,399.62 L824.0,399.66 L825.5,399.67 L827.0,399.65 L828.5,399.60 L830.0,399.52 L831.5,399.41 L833.0,399.27 L834.5,399.10 L836.0,398.91 L837.5,398.69 L839.0,398.44 L840.5,398.17 L842.0,397.88 L843.5,397.56 L845.0,397.22 L846.5,396.85 L848.0,396.47 L849.5,396.06 L851.0,395.63 L852.5,395.18 L854.0,394.72 L855.5,394.24 L857.0,393.75 L858.5,393.24 L860.0,392.72 L861.5,392.19 L863.0,391.66 L864.5,391.11 L866.0,390.56 L867.5,390.01 L869.0,389.45 L870.5,388.90 L872.0,388.34 L873.5,387.78 L875.0,387.23 L876.5,386.68 L878.0,386.14 L879.5,385.61 L881.0,385.09 L882.5,384.57 L884.0,384.07 L885.5,383.58 L887.0,383.11 L888.5,382.66 L890.0,382.22 L891.5,381.80 L893.0,381.40 L894.5,381.03 L896.0,380.68 L897.5,380.35 L899.0,380.05 L900.5,379.78 L902.0,379.53 L903.5,379.30 L905.0,379.09 L906.5,378.90 L908.0,378.73 L909.5,378.57 L911.0,378.43 L912.5,378.31 L914.0,378.19 L915.5,378.09 L917.0,378.00 L918.5,377.91 L920.0,377.83 L921.5,377.76 L923.0,377.69 L924.5,377.62 L926.0,377.55 L927.5,377.49 L929.0,377.42 L930.5,377.35 L932.0,377.27 L933.5,377.19 L935.0,377.10 L936.5,377.01 L938.0,376.91 L939.5,376.82 L941.0,376.73 L942.5,376.64 L944.0,376.56 L945.5,376.48 L947.0,376.41 L948.5,376.35 L950.0,376.30 L951.5,376.27 L953.0,376.24 L954.5,376.24 L956.0,376.25 L957.5,376.28 L959.0,376.34 L960.5,376.41 L962.0,376.51 L963.5,376.63 L965.0,376.76 L966.5,376.92 L968.0,377.09 L969.5,377.29 L971.0,377.50 L972.5,377.73 L974.0,377.97 L975.5,378.23 L977.0,378.50 L978.5,378.79 L980.0,379.10 L981.5,379.41 L983.0,379.74 L984.5,380.08 L986.0,380.44 L987.5,380.80 L989.0,381.17 L990.5,381.55 L992.0,381.95 L993.5,382.35 L995.0,382.75 L996.5,383.17 L998.0,383.59 L999.5,384.02 L1001.0,384.45 L1002.5,384.88 L1004.0,385.33 L1005.5,385.77 L1007.0,386.22 L1008.5,386.66 L1010.0,387.12 L1011.5,387.57 L1013.0,388.01 L1014.5,388.44 L1016.0,388.84 L1017.5,389.22 L1019.0,389.55 L1020.5,389.84 L1022.0,390.08 L1023.5,390.25 L1025.0,390.35 L1026.5,390.37 L1028.0,390.31 L1029.5,390.15 L1031.0,389.90 L1032.5,389.53 L1034.0,389.04 L1035.5,388.44 L1037.0,387.71 L1038.5,386.87 L1040.0,385.92 L1041.5,384.85 L1043.0,383.67 L1044.5,382.38 L1046.0,380.99 L1047.5,379.49 L1049.0,377.88 L1050.5,376.18 L1052.0,374.37 L1053.5,372.48 L1055.0,370.49 L1056.5,368.43 L1058.0,366.30 L1059.5,364.10 L1061.0,361.84 L1062.5,359.52 L1064.0,357.16 L1065.5,354.75 L1067.0,352.31 L1068.5,349.83 L1070.0,347.33 L1071.5,344.82 L1073.0,342.29 L1074.5,339.75 L1076.0,337.22 L1077.5,334.69 L1079.0,332.18 L1080.5,329.68 L1082.0,327.21 L1083.5,324.77 L1085.0,322.35 L1086.5,319.96 L1088.0,317.60 L1089.5,315.28 L1091.0,313.00 L1092.5,310.75 L1094.0,308.54 L1095.5,306.38 L1097.0,304.26 L1098.5,302.19 L1100.0,300.16 L1101.5,298.19 L1103.0,296.26 L1104.5,294.40 L1106.0,292.59 L1107.5,290.84 L1109.0,289.15 L1110.5,287.52 L1112.0,285.96 L1113.5,284.46 L1115.0,283.02 L1116.5,281.66 L1118.0,280.36 L1119.5,279.12 L1121.0,277.96 L1122.5,276.87 L1124.0,275.85 L1125.5,274.90 L1127.0,274.02 L1128.5,273.21 L1130.0,272.48 L1131.5,271.83 L1133.0,271.25 L1134.5,270.74 L1136.0,270.31 L1137.5,269.95 L1139.0,269.67 L1140.5,269.45 L1142.0,269.30 L1143.5,269.22 L1145.0,269.21 L1146.5,269.26 L1148.0,269.37 L1149.5,269.54 L1151.0,269.77 L1152.5,270.06 L1154.0,270.41 L1155.5,270.81 L1157.0,271.27 L1158.5,271.78 L1160.0,272.33 L1161.5,272.94 L1163.0,273.60 L1164.5,274.30 L1166.0,275.05 L1167.5,275.84 L1169.0,276.67 L1170.5,277.54 L1172.0,278.46 L1173.5,279.41 L1175.0,280.39 L1176.5,281.41 L1178.0,282.47 L1179.5,283.55 L1181.0,284.67 L1182.5,285.81 L1184.0,286.99 L1185.5,288.19 L1187.0,289.42 L1188.5,290.68 L1190.0,291.96 L1191.5,293.28 L1193.0,294.61 L1194.5,295.97 L1196.0,297.36 L1197.5,298.77 L1199.0,300.20 L1200.5,301.66 L1202.0,303.13 L1203.5,304.63 L1205.0,306.15 L1206.5,307.69 L1208.0,309.25 L1209.5,310.83 L1211.0,312.43 L1212.5,314.04 L1214.0,315.68 L1215.5,317.33 L1217.0,318.99 L1218.5,320.67 L1220.0,322.36 L1221.5,324.05 L1223.0,325.75 L1224.5,327.46 L1226.0,329.16 L1227.5,330.87 L1229.0,332.57 L1230.5,334.26 L1232.0,335.94 L1233.5,337.61 L1235.0,339.27 L1236.5,340.91 L1238.0,342.52 L1239.5,344.12 L1241.0,345.70 L1242.5,347.25 L1244.0,348.78 L1245.5,350.30 L1247.0,351.79 L1248.5,353.26 L1250.0,354.71 L1251.5,356.15 L1253.0,357.57 L1254.5,358.97 L1256.0,360.36 L1257.5,361.75 L1259.0,363.12 L1260.5,364.48 L1262.0,365.85 L1263.5,367.20 L1265.0,368.56 L1266.5,369.90 L1268.0,371.23 L1269.5,372.55 L1271.0,373.85 L1272.5,375.13 L1274.0,376.39 L1275.5,377.62 L1277.0,378.82 L1278.5,380.00 L1280.0,381.13 L1281.5,382.24 L1283.0,383.30 L1284.5,384.32 L1286.0,385.29 L1287.5,386.22 L1289.0,387.11 L1290.5,387.94 L1292.0,388.74 L1293.5,389.48 L1295.0,390.19 L1296.5,390.85 L1298.0,391.47 L1299.5,392.04 L1301.0,392.57 L1302.5,393.07 L1304.0,393.52 L1305.5,393.92 L1307.0,394.29 L1308.5,394.62 L1310.0,394.91 L1311.5,395.16 L1313.0,395.37 L1314.5,395.55 L1316.0,395.68 L1317.5,395.78 L1319.0,395.85 L1320.5,395.87 L1322.0,395.87 L1323.5,395.82 L1325.0,395.75 L1326.5,395.65 L1328.0,395.52 L1329.5,395.36 L1331.0,395.18 L1332.5,394.99 L1334.0,394.77 L1335.5,394.54 L1337.0,394.29 L1338.5,394.04 L1340.0,393.77 L1341.5,393.50 L1343.0,393.22 L1344.5,392.95 L1346.0,392.67 L1347.5,392.38 L1349.0,392.10 L1350.5,391.81 L1352.0,391.51 L1353.5,391.20 L1355.0,390.89 L1356.5,390.56 L1358.0,390.22 L1359.5,389.87 L1361.0,389.50 L1362.5,389.12 L1364.0,388.72 L1365.5,388.30 L1367.0,387.86 L1368.5,387.39 L1370.0,386.91 L1371.5,386.40 L1373.0,385.86 L1374.5,385.29 L1376.0,384.70 L1377.5,384.07 L1379.0,383.41 L1380.5,382.72 L1382.0,382.00 L1383.5,381.23 L1385.0,380.43 L1386.5,379.59 L1388.0,378.71 L1389.5,377.79 L1391.0,376.83 L1392.5,375.82 L1394.0,374.77 L1395.5,373.67 L1397.0,372.54 L1398.5,371.37 L1400.0,370.16 L1401.5,368.93 L1403.0,367.66 L1404.5,366.36 L1406.0,365.04 L1407.5,363.70 L1409.0,362.33 L1410.5,360.94 L1412.0,359.54 L1413.5,358.12 L1415.0,356.69 L1416.5,355.25 L1418.0,353.80 L1419.5,352.34 L1421.0,350.88 L1422.5,349.42 L1424.0,347.95 L1425.5,346.49 L1427.0,345.04 L1428.5,343.59 L1430.0,342.15 L1431.5,340.72 L1433.0,339.30 L1434.5,337.90 L1436.0,336.52 L1437.5,335.16 L1439.0,333.83 L1440.5,332.51 L1442.0,331.22 L1443.5,329.94 L1445.0,328.68 L1446.5,327.43 L1448.0,326.19 L1449.5,324.95 L1451.0,323.72 L1452.5,322.48 L1454.0,321.25 L1455.5,320.02 L1457.0,318.80 L1458.5,317.57 L1460.0,316.35 L1461.5,315.13 L1463.0,313.91 L1464.5,312.70 L1466.0,311.49 L1467.5,310.28 L1469.0,309.08 L1470.5,307.88 L1472.0,306.69 L1473.5,305.49 L1475.0,304.31 L1476.5,303.12 L1478.0,301.95 L1479.5,300.77 L1481.0,299.61 L1482.5,298.44 L1484.0,297.29 L1485.5,296.14 L1487.0,294.99 L1488.5,293.85 L1490.0,292.72 L1491.5,291.59 L1493.0,290.47 L1494.5,289.36 L1496.0,288.25 L1497.5,287.15 L1499.0,286.06 L1500.5,284.98 L1502.0,283.90 L1503.5,282.83 L1505.0,281.78 L1506.5,280.73 L1508.0,279.70 L1509.5,278.68 L1511.0,277.67 L1512.5,276.68 L1514.0,275.70 L1515.5,274.73 L1517.0,273.78 L1518.5,272.84 L1520.0,271.92 L1521.5,271.02 L1523.0,270.14 L1524.5,269.27 L1526.0,268.43 L1527.5,267.60 L1529.0,266.80 L1530.5,266.02 L1532.0,265.25 L1533.5,264.52 L1535.0,263.80 L1536.5,263.11 L1538.0,262.44 L1539.5,261.80 L1541.0,261.18 L1542.5,260.59 L1544.0,260.03 L1545.5,259.49 L1547.0,258.99 L1548.5,258.51 L1550.0,258.06 L1551.5,257.65 L1553.0,257.26 L1554.5,256.91 L1556.0,256.59 L1557.5,256.30 L1559.0,256.04 L1560.5,255.82 L1562.0,255.63 L1563.5,255.48 L1565.0,255.36 L1566.5,255.27 L1568.0,255.22 L1569.5,255.21 L1571.0,255.22 L1572.5,255.28 L1574.0,255.37 L1575.5,255.49 L1577.0,255.65 L1578.5,255.85 L1580.0,256.08 L1581.5,256.35 L1583.0,256.66 L1584.5,257.00 L1586.0,257.38 L1587.5,257.79 L1589.0,258.25 L1590.5,258.74 L1592.0,259.27 L1593.5,259.84 L1595.0,260.44 L1596.5,261.09 L1598.0,261.77 L1599.5,262.49 L1601.0,263.25 L1602.5,264.05 L1604.0,264.89 L1605.5,265.77 L1607.0,266.68 L1608.5,267.62 L1610.0,268.60 L1611.5,269.60 L1613.0,270.63 L1614.5,271.67 L1616.0,272.74 L1617.5,273.82 L1619.0,274.91 L1620.5,276.02 L1622.0,277.13 L1623.5,278.24 L1625.0,279.36 L1626.5,280.49 L1628.0,281.61 L1629.5,282.74 L1631.0,283.86 L1632.5,284.99 L1634.0,286.11 L1635.5,287.23 L1637.0,288.35 L1638.5,289.46 L1640.0,290.57 L1641.5,291.67 L1643.0,292.76 L1644.5,293.85 L1646.0,294.92 L1647.5,295.98 L1649.0,297.03 L1650.5,298.06 L1652.0,299.07 L1653.5,300.07 L1655.0,301.05 L1656.5,302.01 L1658.0,302.95 L1659.5,303.86 L1661.0,304.75 L1662.5,305.62 L1664.0,306.46 L1665.5,307.27 L1667.0,308.05 L1668.5,308.80 L1670.0,309.53 L1671.5,310.22 L1673.0,310.89 L1674.5,311.53 L1676.0,312.14 L1677.5,312.73 L1679.0,313.28 L1680.5,313.81 L1682.0,314.31 L1683.5,314.79 L1685.0,315.23 L1686.5,315.65 L1688.0,316.05 L1689.5,316.41 L1691.0,316.75 L1692.5,317.07 L1694.0,317.35 L1695.5,317.61 L1697.0,317.85 L1698.5,318.06 L1700.0,318.24 L1701.5,318.40 L1703.0,318.53 L1704.5,318.63 L1706.0,318.72 L1707.5,318.77 L1709.0,318.80 L1710.5,318.81 L1712.0,318.79" fill="none" stroke="#000088" stroke-width="2"/>
<rect x="53" y="338" width="1659" height="1" fill="#000"/>
<rect x="841" y="59" width="1" height="736" fill="#000"/>
<text x="830.32" y="86.85" font-family="'Liberation Sans', sans-serif" font-weight="bold" font-size="30.30" fill="#404040" textLength="103.50" lengthAdjust="spacingAndGlyphs" stroke="#fff" stroke-width="2.3" paint-order="stroke" stroke-linejoin="round" text-rendering="geometricPrecision">All SPL</text>
<text x="31.91" y="795.00" font-family="'Liberation Sans', sans-serif" font-weight="normal" font-size="15.27" fill="#000" textLength="16.00" lengthAdjust="spacingAndGlyphs" stroke="#fff" stroke-width="0.15" text-rendering="geometricPrecision">35</text>
<text x="32.42" y="734.22" font-family="'Liberation Sans', sans-serif" font-weight="normal" font-size="15.54" fill="#000" textLength="15.42" lengthAdjust="spacingAndGlyphs" stroke="#fff" stroke-width="0.15" text-rendering="geometricPrecision">40</text>
<text x="32.38" y="673.13" font-family="'Liberation Sans', sans-serif" font-weight="normal" font-size="15.04" fill="#000" textLength="15.52" lengthAdjust="spacingAndGlyphs" stroke="#fff" stroke-width="0.15" text-rendering="geometricPrecision">45</text>
<text x="31.86" y="612.42" font-family="'Liberation Sans', sans-serif" font-weight="normal" font-size="15.18" fill="#000" textLength="16.01" lengthAdjust="spacingAndGlyphs" stroke="#fff" stroke-width="0.15" text-rendering="geometricPrecision">50</text>
<text x="31.94" y="551.25" font-family="'Liberation Sans', sans-serif" font-weight="normal" font-size="15.06" fill="#000" textLength="15.92" lengthAdjust="spacingAndGlyphs" stroke="#fff" stroke-width="0.15" text-rendering="geometricPrecision">55</text>
<text x="32.10" y="490.83" font-family="'Liberation Sans', sans-serif" font-weight="normal" font-size="15.37" fill="#000" textLength="15.64" lengthAdjust="spacingAndGlyphs" stroke="#fff" stroke-width="0.15" text-rendering="geometricPrecision">60</text>
<text x="32.06" y="429.71" font-family="'Liberation Sans', sans-serif" font-weight="normal" font-size="15.30" fill="#000" textLength="15.81" lengthAdjust="spacingAndGlyphs" stroke="#fff" stroke-width="0.15" text-rendering="geometricPrecision">65</text>
<text x="31.73" y="369.31" font-family="'Liberation Sans', sans-serif" font-weight="normal" font-size="15.34" fill="#000" textLength="16.08" lengthAdjust="spacingAndGlyphs" stroke="#fff" stroke-width="0.15" text-rendering="geometricPrecision">70</text>
<text x="31.78" y="308.32" font-family="'Liberation Sans', sans-serif" font-weight="normal" font-size="15.04" fill="#000" textLength="16.16" lengthAdjust="spacingAndGlyphs" stroke="#fff" stroke-width="0.15" text-rendering="geometricPrecision">75</text>
<text x="32.10" y="247.46" font-family="'Liberation Sans', sans-serif" font-weight="normal" font-size="15.26" fill="#000" textLength="15.70" lengthAdjust="spacingAndGlyphs" stroke="#fff" stroke-width="0.15" text-rendering="geometricPrecision">80</text>
<text x="32.11" y="186.81" font-family="'Liberation Sans', sans-serif" font-weight="normal" font-size="15.28" fill="#000" textLength="15.80" lengthAdjust="spacingAndGlyphs" stroke="#fff" stroke-width="0.15" text-rendering="geometricPrecision">85</text>
<text x="32.11" y="125.77" font-family="'Liberation Sans', sans-serif" font-weight="normal" font-size="15.40" fill="#000" textLength="15.70" lengthAdjust="spacingAndGlyphs" stroke="#fff" stroke-width="0.15" text-rendering="geometricPrecision">90</text>
<text x="19.66" y="49.83" font-family="'Liberation Sans', sans-serif" font-weight="normal" font-size="15.53" fill="#000" textLength="28.32" lengthAdjust="spacingAndGlyphs" stroke="#fff" stroke-width="0.15" text-rendering="geometricPrecision">SPL</text>
<text x="40.44" y="808.87" font-family="'Liberation Sans', sans-serif" font-weight="normal" font-size="15.36" fill="#000" textLength="27.52" lengthAdjust="spacingAndGlyphs" stroke="#fff" stroke-width="0.15" text-rendering="geometricPrecision">18.0</text>
<text x="146.89" y="808.62" font-family="'Liberation Sans', sans-serif" font-weight="normal" font-size="15.82" fill="#000" textLength="15.47" lengthAdjust="spacingAndGlyphs" stroke="#fff" stroke-width="0.15" text-rendering="geometricPrecision">20</text>
<text x="539.96" y="808.65" font-family="'Liberation Sans', sans-serif" font-weight="normal" font-size="15.46" fill="#000" textLength="15.79" lengthAdjust="spacingAndGlyphs" stroke="#fff" stroke-width="0.15" text-rendering="geometricPrecision">30</text>
<text x="1034.13" y="808.54" font-family="'Liberation Sans', sans-serif" font-weight="normal" font-size="15.36" fill="#000" textLength="15.66" lengthAdjust="spacingAndGlyphs" stroke="#fff" stroke-width="0.15" text-rendering="geometricPrecision">50</text>
<text x="1210.84" y="808.86" font-family="'Liberation Sans', sans-serif" font-weight="normal" font-size="15.33" fill="#000" textLength="15.29" lengthAdjust="spacingAndGlyphs" stroke="#fff" stroke-width="0.15" text-rendering="geometricPrecision">60</text>
<text x="1358.73" y="808.67" font-family="'Liberation Sans', sans-serif" font-weight="normal" font-size="15.48" fill="#000" textLength="16.20" lengthAdjust="spacingAndGlyphs" stroke="#fff" stroke-width="0.15" text-rendering="geometricPrecision">70</text>
<text x="1488.84" y="808.94" font-family="'Liberation Sans', sans-serif" font-weight="normal" font-size="15.60" fill="#000" textLength="15.26" lengthAdjust="spacingAndGlyphs" stroke="#fff" stroke-width="0.15" text-rendering="geometricPrecision">80</text>
<text x="1603.34" y="808.75" font-family="'Liberation Sans', sans-serif" font-weight="normal" font-size="15.43" fill="#000" textLength="15.52" lengthAdjust="spacingAndGlyphs" stroke="#fff" stroke-width="0.15" text-rendering="geometricPrecision">90</text>
<text x="1691.19" y="808.77" font-family="'Liberation Sans', sans-serif" font-weight="normal" font-size="15.55" fill="#000" textLength="40.68" lengthAdjust="spacingAndGlyphs" stroke="#fff" stroke-width="0.15" text-rendering="geometricPrecision">100Hz</text>
<text x="686.74" y="25.85" font-family="'Liberation Sans', sans-serif" font-weight="normal" font-size="20.80" fill="#000" textLength="364.78" lengthAdjust="spacingAndGlyphs" stroke="#fff" stroke-width="0.15" text-rendering="geometricPrecision">Audyssey Reference Vs Off, Sub+FL+FR</text>
<rect x="11.6" y="330.6" width="39.6" height="16.6" fill="#fff" stroke="#00008c" stroke-width="1.3"/>
<text x="12.81" y="344.59" font-family="'Liberation Sans', sans-serif" font-weight="normal" font-size="15.24" fill="#0000b8" textLength="36.15" lengthAdjust="spacingAndGlyphs" stroke="#fff" stroke-width="0.15" text-rendering="geometricPrecision">71.99</text>
<rect x="820.9" y="794.8" width="39.4" height="16.4" fill="#fff" stroke="#00008c" stroke-width="1.3"/>
<text x="822.38" y="808.86" font-family="'Liberation Sans', sans-serif" font-weight="normal" font-size="15.45" fill="#0000b8" textLength="36.05" lengthAdjust="spacingAndGlyphs" stroke="#fff" stroke-width="0.15" text-rendering="geometricPrecision">40.64</text>
<path d="M817.8,805 L820.5,803.3 L820.5,806.5 Z" fill="#000"/>
<rect x="479.6" y="825.6" width="12.8" height="12.8" rx="2" fill="url(#cbg)" stroke="#404040" stroke-width="1.2"/><path d="M482.0,831.9 L485.3,835.8" fill="none" stroke="#000" stroke-width="2.0"/><path d="M485.0,835.9 L490.6,826.0" fill="none" stroke="#000" stroke-width="1.35"/>
<text x="499.21" y="837.57" font-family="'Liberation Sans', sans-serif" font-weight="normal" font-size="15.26" fill="#900000" textLength="121.08" lengthAdjust="spacingAndGlyphs" stroke="#fff" stroke-width="0.05" text-rendering="geometricPrecision">1: 6/14/20 7:40 PM</text>
<line x1="683" x2="730" y1="832.6" y2="832.6" stroke="#8c0000" stroke-width="1.6"/><rect x="690.9" y="823" width="31.8" height="20" rx="4.2" fill="#fff" stroke="#8c0000" stroke-width="1.8"/><g fill="none" stroke="#000" stroke-width="1.15" stroke-linecap="butt"><path d="M695.8,835.9 V827.1 L692.9,829.6"/><path d="M711.4,840.7 V832.2 L708.8,834.4"/><path d="M716.2,834.6 C716.3,833.0 717.2,832.3 718.3,832.3 C719.6,832.3 720.4,833.2 720.4,834.4 C720.4,836.5 716.3,837.9 716.0,840.2 H720.9"/></g><line x1="697.6" x2="707.2" y1="841" y2="824.6" stroke="#000" stroke-width="1"/>
<text x="785.49" y="837.83" font-family="'Liberation Sans', sans-serif" font-weight="normal" font-size="15.06" fill="#900000" textLength="50.18" lengthAdjust="spacingAndGlyphs" stroke="#fff" stroke-width="0.05" text-rendering="geometricPrecision">72.2 dB</text>
<rect x="873.6" y="825.6" width="12.8" height="12.8" rx="2" fill="url(#cbg)" stroke="#404040" stroke-width="1.2"/><path d="M876.0,831.9 L879.3,835.8" fill="none" stroke="#000" stroke-width="2.0"/><path d="M879.0,835.9 L884.6,826.0" fill="none" stroke="#000" stroke-width="1.35"/>
<text x="892.63" y="837.52" font-family="'Liberation Sans', sans-serif" font-weight="normal" font-size="15.29" fill="#000080" textLength="121.46" lengthAdjust="spacingAndGlyphs" stroke="#fff" stroke-width="0.05" text-rendering="geometricPrecision">2: 6/14/20 7:44 PM</text>
<line x1="1077" x2="1124" y1="832.6" y2="832.6" stroke="#0000a0" stroke-width="1.6"/><rect x="1084.9" y="823" width="31.8" height="20" rx="4.2" fill="#fff" stroke="#0000a0" stroke-width="1.8"/><g fill="none" stroke="#000" stroke-width="1.15" stroke-linecap="butt"><path d="M1089.8,835.9 V827.1 L1086.9,829.6"/><path d="M1105.4,840.7 V832.2 L1102.8,834.4"/><path d="M1110.2,834.6 C1110.3,833.0 1111.2,832.3 1112.3,832.3 C1113.6,832.3 1114.4,833.2 1114.4,834.4 C1114.4,836.5 1110.3,837.9 1110.0,840.2 H1114.9"/></g><line x1="1091.6" x2="1101.2" y1="841" y2="824.6" stroke="#000" stroke-width="1"/>
<text x="1179.62" y="837.55" font-family="'Liberation Sans', sans-serif" font-weight="normal" font-size="14.85" fill="#000080" textLength="49.74" lengthAdjust="spacingAndGlyphs" stroke="#fff" stroke-width="0.05" text-rendering="geometricPrecision">67.0 dB</text></svg></body></html>
